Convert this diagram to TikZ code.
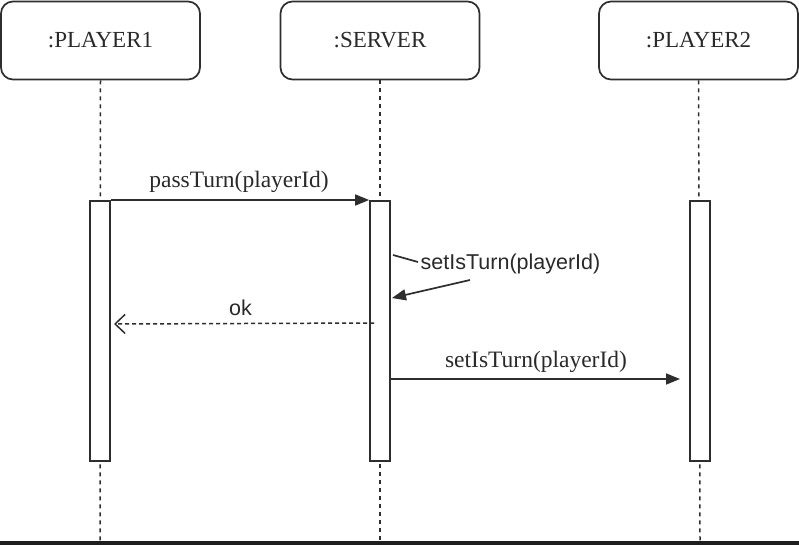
\documentclass[tikz,border=0pt]{standalone}
\usepackage{fontspec}
\setmainfont{Liberation Serif}
\newfontfamily\sansf{Liberation Sans}
\usetikzlibrary{arrows.meta}
\definecolor{ink}{HTML}{2E2E2E}
\definecolor{txt}{HTML}{2A2A2A}
\definecolor{barblack}{HTML}{1E1E1E}
\begin{document}
\begin{tikzpicture}[x=1pt,y=-1pt,
  lifebox/.style={draw=ink,line width=1.7pt,rounded corners=12pt,minimum width=199pt,minimum height=78pt,inner sep=0pt,text=txt,font=\fontsize{23}{27}\selectfont},
  actbar/.style={draw=ink,line width=1.7pt,fill=white,minimum width=20pt,minimum height=260pt,inner sep=0pt},
  lifeline/.style={draw=ink,line width=1.5pt,dash pattern=on 4pt off 4pt},
  msg/.style={draw=ink,line width=1.7pt,-{Triangle[length=14pt,width=11pt]}},
  reply/.style={draw=ink,line width=1.5pt,dash pattern=on 4pt off 3pt,-{Straight Barb[length=10pt,width=19pt,line width=1.5pt]}},
  lbl/.style={text=txt,inner sep=0pt,font=\fontsize{23.5}{27}\selectfont},
  slbl/.style={text=txt,inner sep=0pt,font=\sansf\fontsize{21.5}{25}\selectfont}
]
\useasboundingbox (0,0) rectangle (799,545);
\fill[white] (0,0) rectangle (799,545);
% lifeline boxes
\node[lifebox] (p1) at (100.5,40.5) {:PLAYER1};
\node[lifebox] (srv) at (380,40.5) {:SERVER};
\node[lifebox] (p2) at (698.5,40.5) {:PLAYER2};
% lifeline ends
\coordinate (p1end) at (100,541);
\coordinate (srvend) at (380,541);
\coordinate (p2end) at (700,541);
\draw[lifeline] (p1.south) -- (p1end);
\draw[lifeline] (srv.south) -- (srvend);
\draw[lifeline] (p2.south) -- (p2end);
% activation bars
\node[actbar,anchor=north] (a1) at (100,200) {};
\node[actbar,anchor=north] (a2) at (380,200) {};
\node[actbar,anchor=north] (a3) at (700,200) {};
% passTurn
\draw[msg] (a1.north east) -- (a2.north west);
\node[lbl,anchor=base] (l1) at (239,188) {passTurn(playerId)};
% self call
\node[slbl] (l2) at (510.5,264) {setIsTurn(playerId)};
\coordinate (s1) at (393,255);
\coordinate (s2) at (418,262);
\coordinate (s3) at (470,280);
\coordinate (s4) at (392,298);
\draw[draw=ink,line width=1.7pt] (s1) -- (s2);
\draw[msg] (s3) -- (s4);
% ok
\coordinate (r1) at (374,323);
\coordinate (r2) at (114,324);
\draw[reply] (r1) -- (r2);
\node[slbl] (l3) at (240.5,308) {ok};
% setIsTurn to player2
\coordinate (m1) at (390,379);
\coordinate (m2) at (680,379);
\draw[msg] (m1) -- (m2);
\node[lbl,anchor=base] (l4) at (536,367) {setIsTurn(playerId)};
% bottom bar
\fill[barblack] (0,541) rectangle (799,545);
\end{tikzpicture}
\end{document}
